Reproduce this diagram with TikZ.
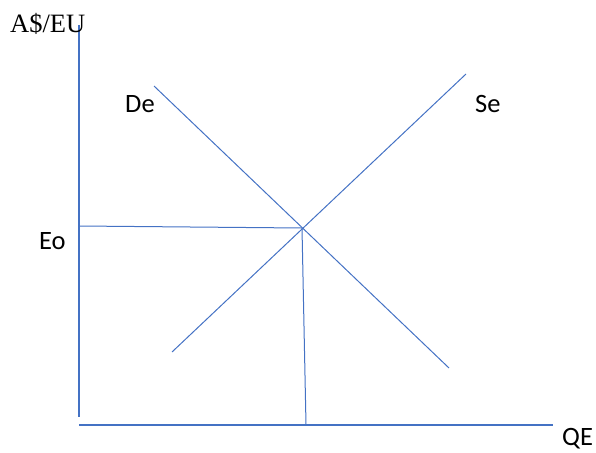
\documentclass[tikz,border=0pt]{standalone}
\usepackage{fontspec}
\setmainfont{Carlito}
\newfontfamily\timesfont{Liberation Serif}
\definecolor{lineblue}{HTML}{4472C4}
\begin{document}
\begin{tikzpicture}[x=1pt,y=-1pt,
  axis/.style={draw=lineblue,line width=1.4pt},
  curve/.style={draw=lineblue,line width=1pt},
  lbl/.style={inner sep=0pt,anchor=base west,font=\fontsize{26.5}{30}\selectfont}]
\useasboundingbox (0,0) rectangle (596,452);
% coordinates
\coordinate (ytop) at (79,25);
\coordinate (origin) at (79,417);
\coordinate (xl) at (79,425);
\coordinate (xr) at (553,425);
\coordinate (deTop) at (154,86);
\coordinate (deBot) at (449,368);
\coordinate (seBot) at (172,352);
\coordinate (seTop) at (466,74);
\coordinate (eq) at (302,228);
\coordinate (eoL) at (79,226);
\coordinate (qeB) at (306,425);
% axes
\draw[axis] (ytop) -- (origin);
\draw[axis] (xl) -- (xr);
% curves
\draw[curve] (deTop) -- (deBot);
\draw[curve] (seBot) -- (seTop);
\draw[curve] (eoL) -- (eq);
\draw[curve] (eq) -- (qeB);
% labels
\node[lbl,font=\timesfont\fontsize{26.5}{30}\selectfont] (yl) at (10,33) {A\$/EU};
\node[lbl] (de) at (125,112) {De};
\node[lbl] (se) at (475,112) {Se};
\node[lbl] (eo) at (39,249) {Eo};
\node[lbl] (qe) at (562,445) {QE};
\end{tikzpicture}
\end{document}
